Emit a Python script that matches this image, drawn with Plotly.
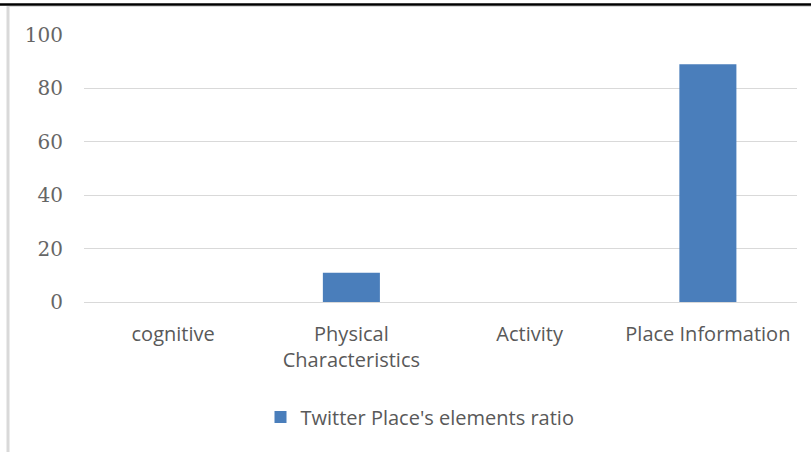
import plotly.graph_objects as go

categories = ["cognitive", "Physical<br>Characteristics", "Activity", "Place Information"]
ratios = [0, 11, 0, 89]
y_ticks = [0, 20, 40, 60, 80, 100]
series_name = "Twitter Place's elements ratio"

W, H = 811, 452
L, R, T, B = 84, 14, 35, 150
pw, ph = W - L - R, H - T - B


def px_x(x):
    return (x - L) / pw


def px_y(y):
    return (H - B - y) / ph


fig = go.Figure(
    go.Bar(
        x=categories,
        y=ratios,
        name=series_name,
        marker=dict(color="#4a7ebb", line=dict(width=0)),
        showlegend=True,
    )
)

fig.update_layout(
    width=W,
    height=H,
    margin=dict(l=L, r=R, t=T, b=B),
    paper_bgcolor="white",
    plot_bgcolor="white",
    bargap=0.68,
    font=dict(family="Open Sans", size=20, color="#595959"),
    showlegend=True,
    legend=dict(
        orientation="h",
        x=px_x(420),
        y=px_y(417),
        xanchor="center",
        yanchor="middle",
        font=dict(family="Open Sans", size=20, color="#595959"),
        itemwidth=30,
    ),
    xaxis=dict(
        showgrid=False,
        showline=False,
        ticks="",
        ticklabelstandoff=18,
        tickfont=dict(family="Open Sans", size=20, color="#595959"),
    ),
    yaxis=dict(
        range=[0, 100],
        tickvals=y_ticks,
        showgrid=True,
        gridcolor="#d9d9d9",
        gridwidth=1,
        zeroline=True,
        zerolinecolor="#d9d9d9",
        zerolinewidth=1,
        showline=False,
        ticks="",
        ticklabelstandoff=20,
        tickfont=dict(family="DejaVu Serif", size=20, color="#666666"),
    ),
    shapes=[
        dict(type="line", xref="paper", yref="paper",
             x0=px_x(0), x1=px_x(W), y0=px_y(4.5), y1=px_y(4.5),
             line=dict(color="black", width=2.5)),
        dict(type="line", xref="paper", yref="paper",
             x0=px_x(8), x1=px_x(W), y0=px_y(6.5), y1=px_y(6.5),
             line=dict(color="#d9d9d9", width=1)),
        dict(type="line", xref="paper", yref="paper",
             x0=px_x(8), x1=px_x(8), y0=px_y(6), y1=px_y(H),
             line=dict(color="#d9d9d9", width=3)),
    ],
)

fig.write_html(
    "out.html",
    config={"displayModeBar": False},
    post_script="document.body.style.margin='0';",
)
